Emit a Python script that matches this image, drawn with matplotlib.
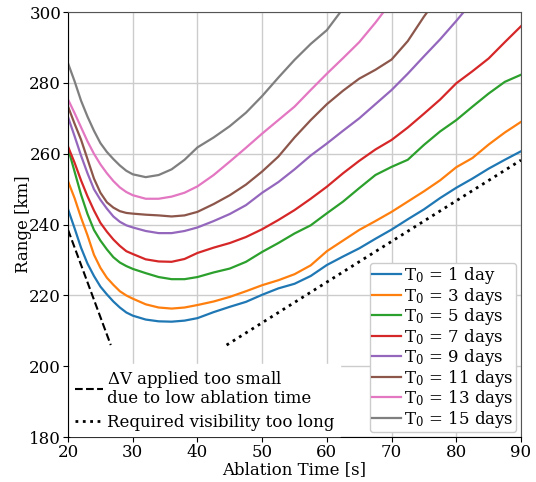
import matplotlib
matplotlib.use("Agg")
import matplotlib.pyplot as plt

XLIM = [20, 90]
YLIM = [180, 300]

# ablation time [s], shared by every curve (a curve may stop early once it
# leaves the top of the plot)
TIME = [20, 21, 22, 23, 24, 25, 26, 27, 28, 29, 30, 32, 34, 36, 38, 40,
	42.5, 45, 47.5, 50, 52.5, 55, 57.5, 60, 62.5, 65, 67.5, 70, 72.5, 75,
	77.5, 80, 82.5, 85, 87.5, 90]

# range [km] for each initial period T0
RANGE_T1 = [244.3, 239.0, 233.5, 229.0, 225.5, 222.5, 220.3, 218.3, 216.6,
	215.2, 214.3, 213.2, 212.7, 212.6, 212.9, 213.6, 215.3, 216.8, 218.2,
	220.2, 222.0, 223.3, 225.5, 228.6, 231.0, 233.3, 236.0, 238.6, 241.5,
	244.3, 247.5, 250.4, 253.0, 255.8, 258.3, 260.7]
RANGE_T3 = [252.2, 247.5, 242.0, 237.0, 231.5, 227.8, 225.0, 223.0, 221.2,
	220.0, 219.1, 217.5, 216.6, 216.3, 216.6, 217.3, 218.3, 219.6, 221.2,
	222.9, 224.3, 226.0, 228.5, 232.5, 235.5, 238.5, 241.0, 243.6, 246.5,
	249.4, 252.5, 256.2, 258.8, 262.6, 266.0, 269.0]
RANGE_T5 = [261.5, 255.0, 248.5, 243.0, 238.5, 235.5, 233.0, 230.8, 229.3,
	228.3, 227.5, 226.3, 225.2, 224.6, 224.6, 225.2, 226.5, 227.6, 229.5,
	232.3, 234.8, 237.5, 239.8, 243.2, 246.5, 250.3, 254.0, 256.3, 258.3,
	262.5, 266.3, 269.5, 273.3, 277.0, 280.3, 282.3]
RANGE_T7 = [262.0, 257.5, 252.5, 248.0, 244.0, 240.5, 238.0, 235.8, 234.0,
	232.5, 231.7, 230.2, 229.6, 229.5, 230.3, 232.0, 233.5, 234.8, 236.5,
	238.7, 241.3, 244.1, 247.3, 250.7, 254.5, 258.0, 261.2, 263.9, 267.4,
	271.3, 275.3, 279.9, 283.3, 286.9, 291.5, 296.0]
RANGE_T9 = [270.3, 265.0, 259.5, 254.5, 250.0, 247.0, 244.5, 242.3, 240.8,
	239.8, 239.2, 238.2, 237.6, 237.6, 238.2, 239.2, 241.0, 243.0, 245.5,
	249.0, 252.0, 255.6, 259.5, 262.9, 266.5, 270.0, 274.0, 278.0, 282.6,
	287.5, 292.3, 297.5, 303.0]
RANGE_T11 = [273.3, 268.5, 264.0, 258.5, 253.0, 249.0, 246.3, 244.8, 243.8,
	243.3, 243.1, 242.8, 242.6, 242.3, 242.6, 243.6, 245.8, 248.3, 251.3,
	255.0, 259.2, 264.6, 269.5, 274.0, 277.8, 281.2, 283.7, 286.6, 291.8,
	298.7, 305.0]
RANGE_T13 = [275.3, 271.5, 267.5, 263.5, 260.0, 257.0, 254.5, 252.3, 250.5,
	249.2, 248.3, 247.3, 247.3, 247.9, 249.0, 250.8, 254.0, 257.8, 261.7,
	265.7, 269.5, 273.3, 278.0, 282.6, 287.0, 291.5, 297.0, 303.0]
RANGE_T15 = [285.5, 280.5, 275.0, 270.5, 266.5, 263.0, 260.5, 258.5, 256.7,
	255.2, 254.2, 253.4, 254.0, 255.6, 258.3, 261.8, 264.6, 267.8, 271.6,
	276.3, 281.5, 286.5, 291.0, 294.9, 301.0]

CURVES = [RANGE_T1, RANGE_T3, RANGE_T5, RANGE_T7, RANGE_T9, RANGE_T11,
	RANGE_T13, RANGE_T15]
LABELS = ["T$_0$ = 1 day", "T$_0$ = 3 days", "T$_0$ = 5 days",
	"T$_0$ = 7 days", "T$_0$ = 9 days", "T$_0$ = 11 days",
	"T$_0$ = 13 days", "T$_0$ = 15 days"]

# limit lines (ablation time, range)
LOW_DV_T = [20, 26.6]
LOW_DV_R = [238.5, 206.0]
VIS_T = [44.5, 90]
VIS_R = [206.0, 258.2]


def setup_axes():
	r"""
	Sets up the single axes with grid and limits.
	"""
	fig = plt.figure(figsize = (5.36, 4.82), dpi = 100)
	ax = fig.add_axes([0.127, 0.093, 0.845, 0.882])
	ax.set_xlim(XLIM)
	ax.set_ylim(YLIM)
	ax.set_xlabel("Ablation Time [s]", labelpad = 0)
	ax.set_ylabel("Range [km]", labelpad = -2)
	ax.tick_params(axis = "x", pad = 1.5)
	ax.tick_params(axis = "y", pad = 1.5)
	ax.grid(True, color = "#cccccc", linewidth = 1)
	ax.set_axisbelow(True)
	for side in ["top", "right"]:
		ax.spines[side].set_color("#555555")
	return fig, ax


def plot_curves(ax):
	handles = []
	for i in range(len(CURVES)):
		line, = ax.plot(TIME[:len(CURVES[i])], CURVES[i], lw = 1.6,
			c = "C%d" % (i), label = LABELS[i])
		handles.append(line)
	leg1 = ax.legend(handles = handles, loc = "lower right",
		labelspacing = -0.03, handlelength = 1.7, handletextpad = 0.2,
		borderpad = 0.15, borderaxespad = 0.3, framealpha = 1,
		edgecolor = "#cccccc")
	ax.add_artist(leg1)

	dash, = ax.plot(LOW_DV_T, LOW_DV_R, c = "k", ls = "--", lw = 1.5,
		label = "$\\Delta$V applied too small\ndue to low ablation time")
	dot, = ax.plot(VIS_T, VIS_R, c = "k", ls = ":", lw = 2,
		label = "Required visibility too long")
	leg2 = ax.legend(handles = [dash, dot], loc = "lower left",
		handlelength = 1.7, handletextpad = 0.25, labelspacing = 0.4,
		borderpad = 0.3, borderaxespad = 0.1, framealpha = 1,
		edgecolor = "white", fancybox = False)
	for t in leg2.get_texts():
		t.set_linespacing(0.95)
	leg2.set_zorder(5)


def main():
	plt.rcParams["font.family"] = ["DejaVu Serif"]
	plt.rcParams["mathtext.fontset"] = "dejavuserif"
	plt.rcParams["font.size"] = 12
	fig, ax = setup_axes()
	plot_curves(ax)
	plt.savefig("out.png", dpi = 100)


main()
